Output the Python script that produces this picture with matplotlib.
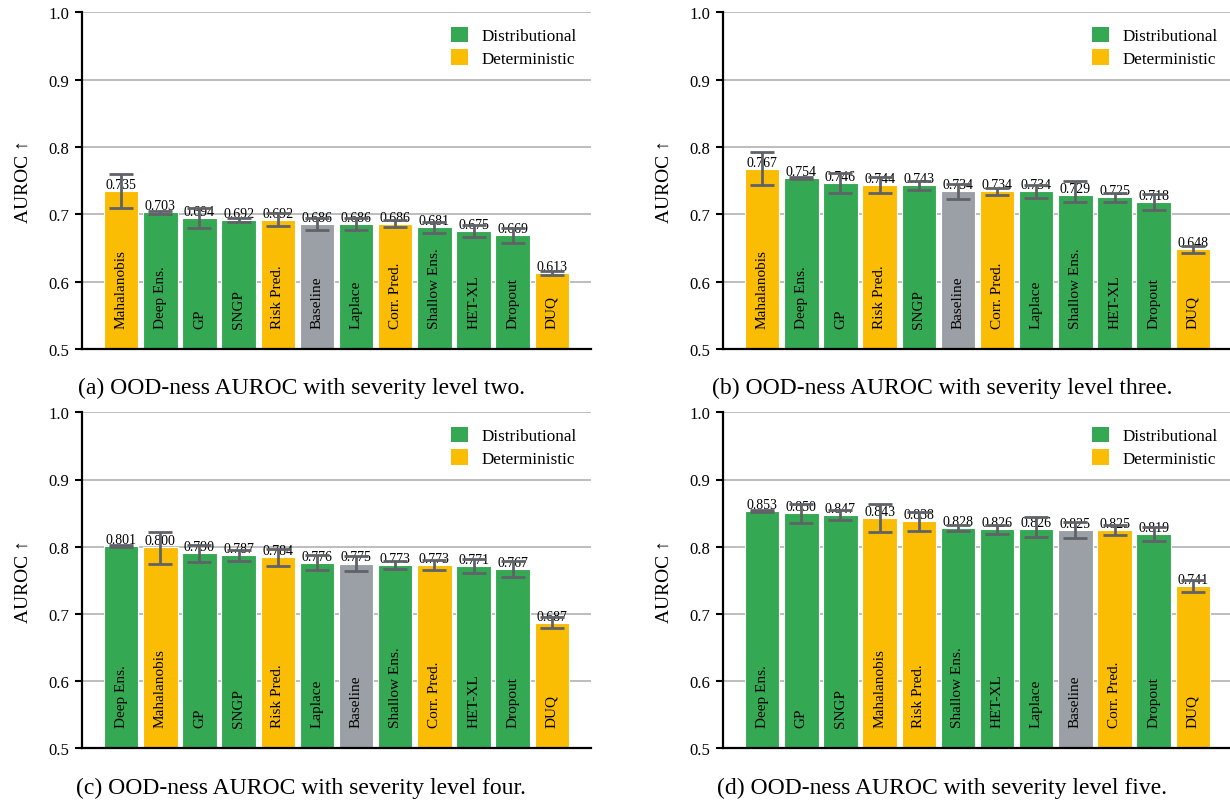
import matplotlib
matplotlib.use("Agg")
import matplotlib.pyplot as plt
from matplotlib.patches import Patch

plt.rcParams['font.family'] = ['Liberation Serif', 'DejaVu Serif']

GREEN = "#34A853"
YELLOW = "#FBBC04"
GRAY = "#9AA0A6"
ERR = "#5F6368"
GRID = "#B8B8B8"

DETERMINISTIC = {"Mahalanobis", "Risk Pred.", "Corr. Pred.", "DUQ"}
BASELINE = "Baseline"

# (a) severity level two
methods_two = ["Mahalanobis", "Deep Ens.", "GP", "SNGP", "Risk Pred.", "Baseline",
               "Laplace", "Corr. Pred.", "Shallow Ens.", "HET-XL", "Dropout", "DUQ"]
auroc_two = [0.735, 0.703, 0.694, 0.692, 0.692, 0.686, 0.686, 0.686, 0.681, 0.675, 0.669, 0.613]
err_lo_two = [0.025, 0.002, 0.015, 0.003, 0.010, 0.009, 0.009, 0.005, 0.008, 0.009, 0.011, 0.003]
err_hi_two = [0.025, 0.002, 0.015, 0.003, 0.010, 0.009, 0.009, 0.005, 0.008, 0.009, 0.011, 0.003]

# (b) severity level three
methods_three = ["Mahalanobis", "Deep Ens.", "GP", "Risk Pred.", "SNGP", "Baseline",
                 "Corr. Pred.", "Laplace", "Shallow Ens.", "HET-XL", "Dropout", "DUQ"]
auroc_three = [0.767, 0.754, 0.746, 0.744, 0.743, 0.734, 0.734, 0.734, 0.729, 0.725, 0.718, 0.648]
err_lo_three = [0.024, 0.002, 0.015, 0.012, 0.007, 0.011, 0.005, 0.010, 0.010, 0.006, 0.012, 0.005]
err_hi_three = [0.025, 0.002, 0.015, 0.012, 0.007, 0.011, 0.005, 0.010, 0.020, 0.006, 0.012, 0.005]

# (c) severity level four
methods_four = ["Deep Ens.", "Mahalanobis", "GP", "SNGP", "Risk Pred.", "Laplace",
                "Baseline", "Shallow Ens.", "Corr. Pred.", "HET-XL", "Dropout", "DUQ"]
auroc_four = [0.801, 0.800, 0.790, 0.787, 0.784, 0.776, 0.775, 0.773, 0.773, 0.771, 0.767, 0.687]
err_lo_four = [0.002, 0.026, 0.013, 0.008, 0.013, 0.011, 0.011, 0.006, 0.007, 0.010, 0.012, 0.008]
err_hi_four = [0.002, 0.022, 0.013, 0.008, 0.013, 0.011, 0.011, 0.006, 0.007, 0.010, 0.012, 0.008]

# (d) severity level five
methods_five = ["Deep Ens.", "GP", "SNGP", "Mahalanobis", "Risk Pred.", "Shallow Ens.",
                "HET-XL", "Laplace", "Baseline", "Corr. Pred.", "Dropout", "DUQ"]
auroc_five = [0.853, 0.850, 0.847, 0.843, 0.838, 0.828, 0.826, 0.826, 0.825, 0.825, 0.819, 0.741]
err_lo_five = [0.002, 0.014, 0.008, 0.021, 0.014, 0.004, 0.007, 0.012, 0.012, 0.007, 0.011, 0.009]
err_hi_five = [0.002, 0.014, 0.008, 0.021, 0.014, 0.004, 0.007, 0.018, 0.012, 0.007, 0.011, 0.009]

captions = [
    "(a) OOD-ness AUROC with severity level two.",
    "(b) OOD-ness AUROC with severity level three.",
    "(c) OOD-ness AUROC with severity level four.",
    "(d) OOD-ness AUROC with severity level five.",
]

y_ticks = [0.5, 0.6, 0.7, 0.8, 0.9, 1.0]

W, H = 1230, 803
fig = plt.figure(figsize=(W / 100, H / 100), dpi=100)


def method_color(name):
    if name == BASELINE:
        return GRAY
    if name in DETERMINISTIC:
        return YELLOW
    return GREEN


def px_axes(left, top, right, bottom):
    return [left / W, 1 - bottom / H, (right - left) / W, (bottom - top) / H]


panels = [
    (methods_two, auroc_two, err_lo_two, err_hi_two, px_axes(82, 13.3, 591, 350), (301, 388)),
    (methods_three, auroc_three, err_lo_three, err_hi_three, px_axes(723, 13.3, 1232, 350), (942, 388)),
    (methods_four, auroc_four, err_lo_four, err_hi_four, px_axes(82, 413.3, 591, 749.3), (301, 788)),
    (methods_five, auroc_five, err_lo_five, err_hi_five, px_axes(723, 413.3, 1232, 749.3), (942, 788)),
]

for (names, vals, lo, hi, rect, cap_xy), caption in zip(panels, captions):
    ax = fig.add_axes(rect)
    x = list(range(len(names)))
    colors = [method_color(n) for n in names]

    ax.bar(x, vals, width=0.88, color=colors, edgecolor="white", linewidth=0.8, zorder=2)

    for xi, v in zip(x, vals):
        ax.text(xi, v, f"{v:.3f}", ha="center", va="bottom", fontsize=10, zorder=3)

    ax.errorbar(x, vals, yerr=[lo, hi], fmt="none", ecolor=ERR, elinewidth=2,
                capsize=8.5, capthick=2, zorder=4)

    for xi, n in zip(x, names):
        ax.text(xi, 0.531, n, rotation=90, ha="center", va="bottom", fontsize=11, zorder=3)

    ax.set_xlim(-1, 12)
    ax.set_ylim(0.5, 1.0)
    ax.set_yticks(y_ticks)
    ax.set_yticklabels([f"{t:.1f}" for t in y_ticks])
    ax.set_xticks([])
    ax.yaxis.grid(True, color=GRID, linewidth=1.3)
    ax.set_axisbelow(True)
    for side in ("top", "right"):
        ax.spines[side].set_visible(False)
    for side in ("left", "bottom"):
        ax.spines[side].set_linewidth(1.6)
        ax.spines[side].set_color("black")
    ax.tick_params(axis="y", direction="out", length=5, width=1.5, labelsize=12, pad=4)

    ax.set_ylabel("AUROC ↑", fontsize=14)
    ax.yaxis.set_label_coords(-0.098, 0.5)

    handles = [Patch(facecolor=GREEN, label="Distributional"),
               Patch(facecolor=YELLOW, label="Deterministic")]
    ax.legend(handles=handles, loc="upper right", frameon=False, fontsize=12.3,
              handlelength=1.0, handleheight=1.0, handletextpad=0.75,
              labelspacing=0.3, borderaxespad=0.45)

    fig.text(cap_xy[0] / W, 1 - cap_xy[1] / H, caption, ha="center", va="center", fontsize=17)

fig.savefig("out.png", dpi=100)
